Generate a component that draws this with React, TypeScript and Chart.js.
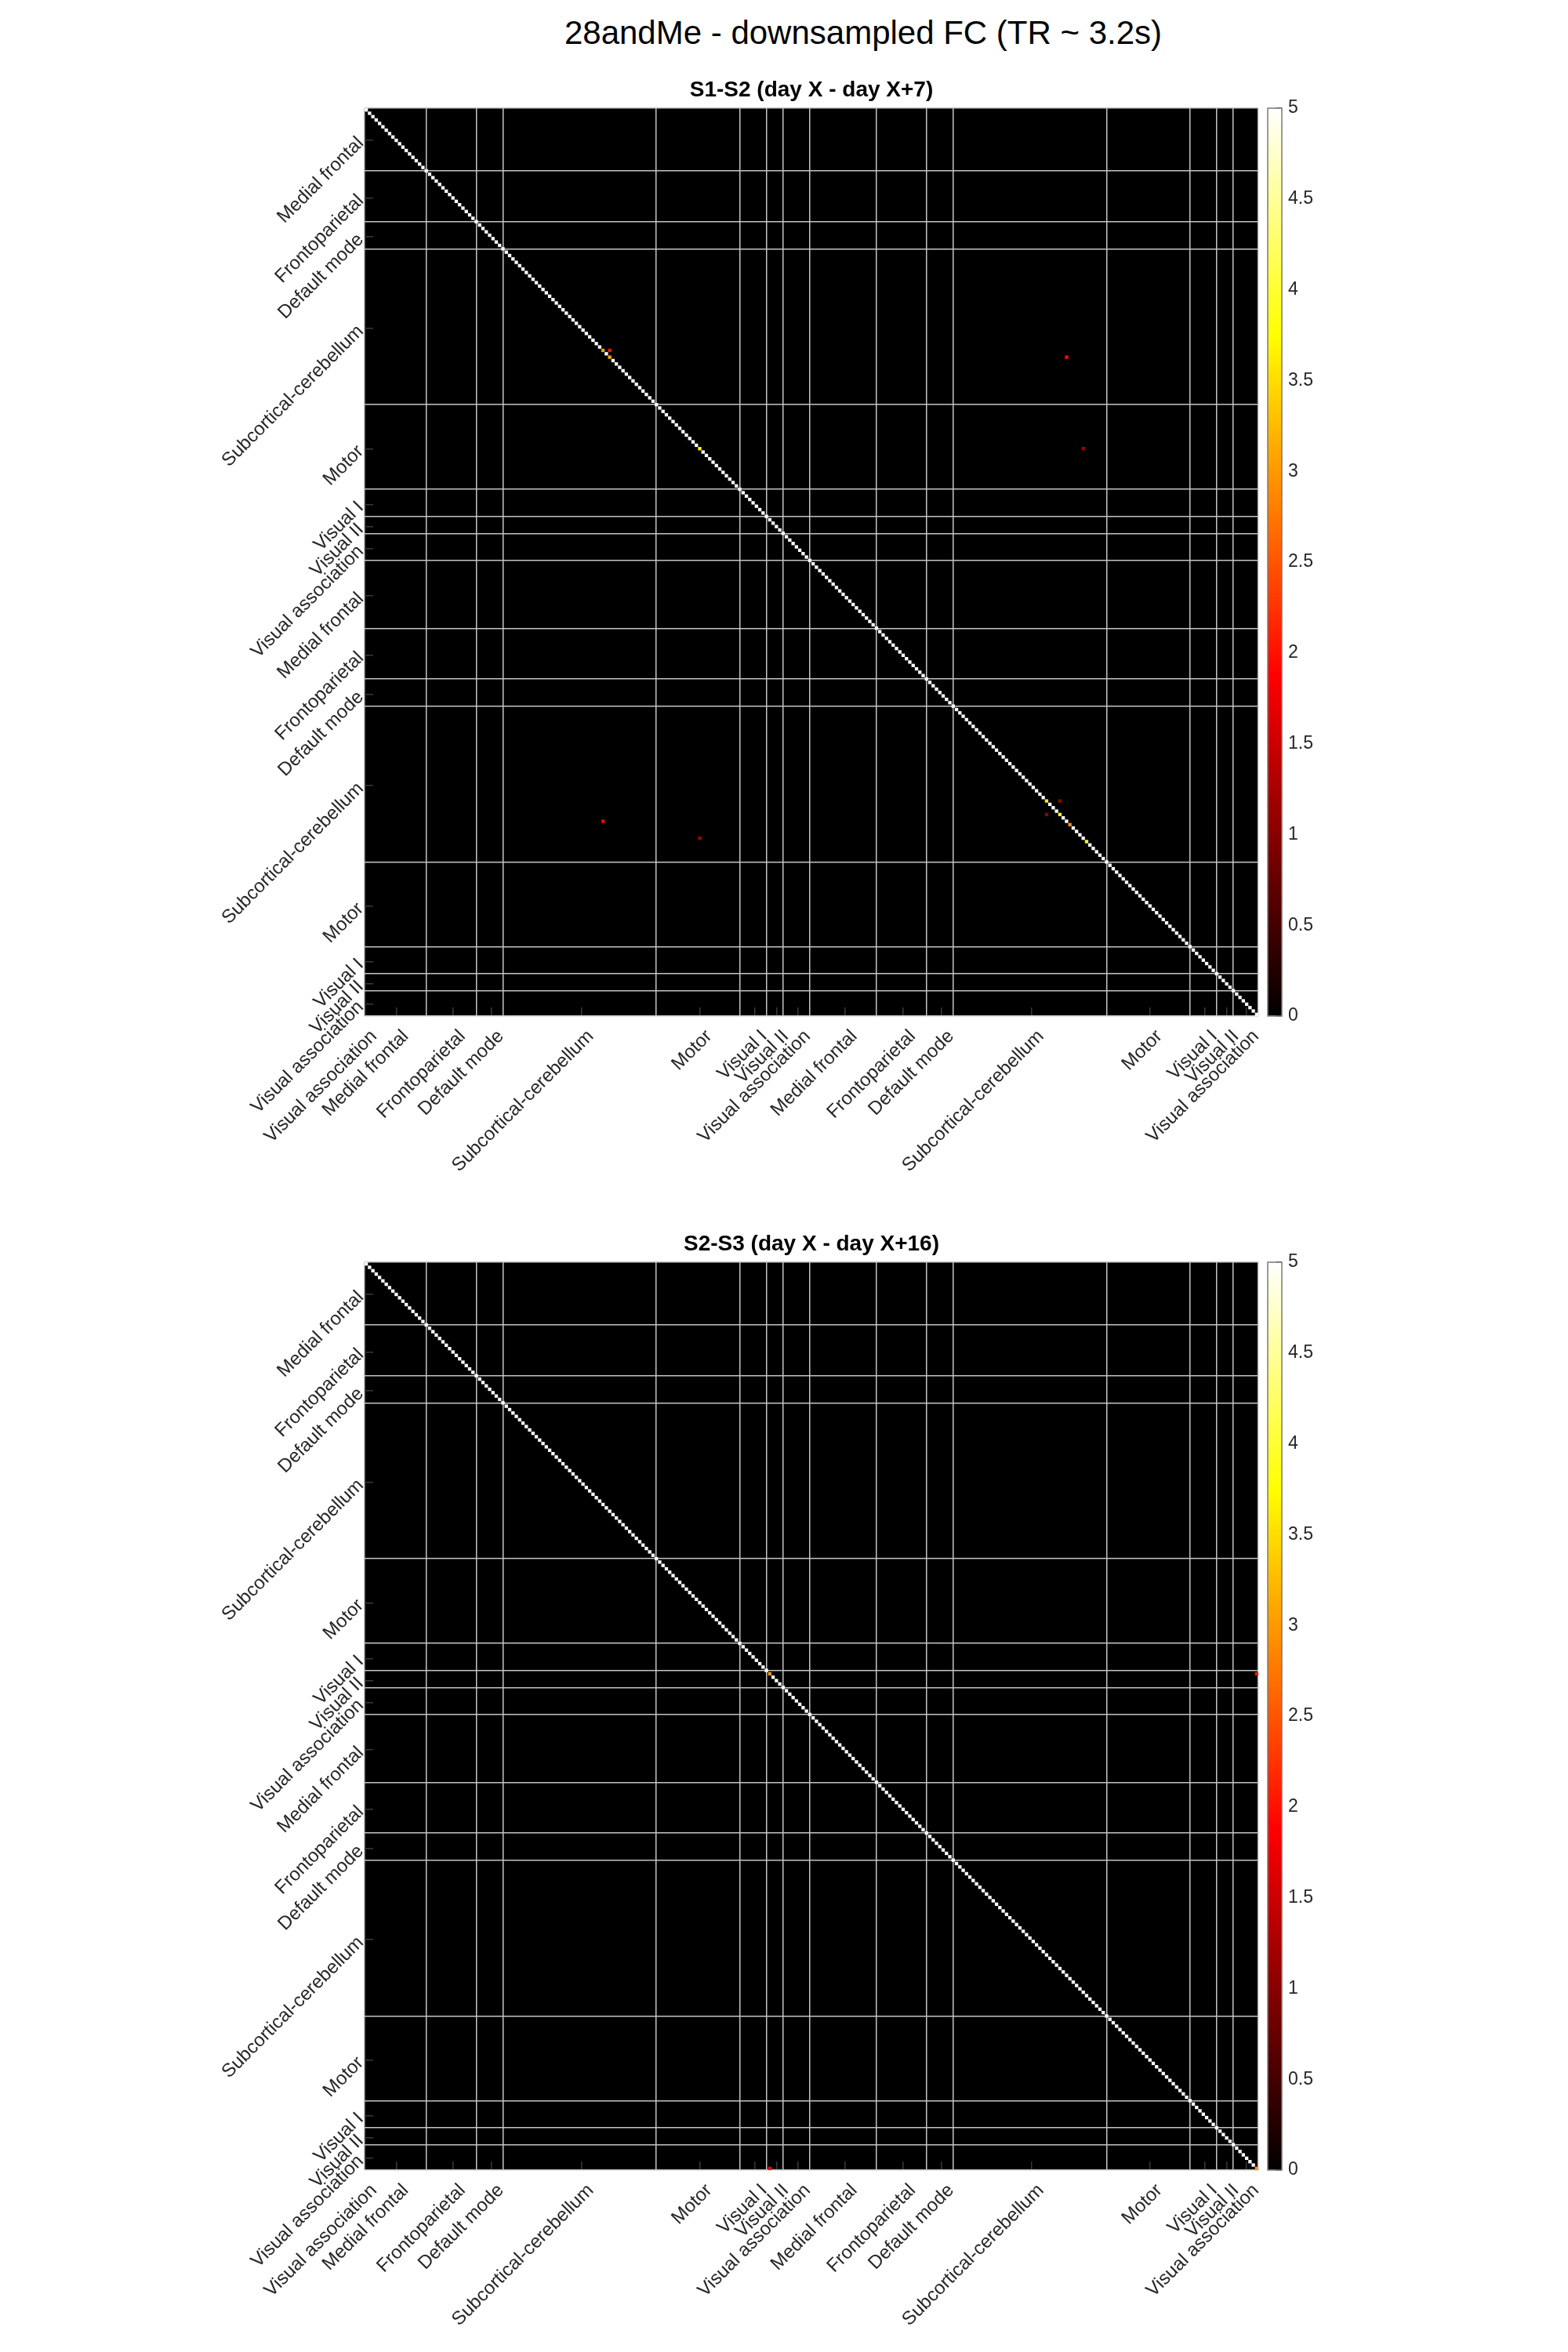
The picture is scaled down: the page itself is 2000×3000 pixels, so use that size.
import React, { useEffect, useRef } from 'react';
import { Chart, registerables } from 'chart.js';

Chart.register(...registerables);

const FONT_FAMILY = '"Liberation Sans", Arial, Helvetica, sans-serif';

const MAIN_TITLE = '28andMe - downsampled FC (TR ~ 3.2s)';
const PANEL_TITLES = ['S1-S2 (day X - day X+7)', 'S2-S3 (day X - day X+16)'];

// Network blocks (left hemisphere, then right hemisphere), node counts per block
const NETWORKS = [
  'Medial frontal',
  'Frontoparietal',
  'Default mode',
  'Subcortical-cerebellum',
  'Motor',
  'Visual I',
  'Visual II',
  'Visual association',
];
const LEFT_HEMI_SIZES = [19, 15, 8, 46, 25, 8, 5, 8];
const RIGHT_HEMI_SIZES = [20, 15, 8, 46, 25, 8, 5, 7];

const X_TICK_LABELS = [
  'Visual association',
  'Medial frontal', 'Frontoparietal', 'Default mode', 'Subcortical-cerebellum',
  'Motor', 'Visual I', 'Visual II', 'Visual association',
  'Medial frontal', 'Frontoparietal', 'Default mode', 'Subcortical-cerebellum',
  'Motor', 'Visual I', 'Visual II', 'Visual association',
];
const Y_TICK_LABELS = [
  'Medial frontal', 'Frontoparietal', 'Default mode', 'Subcortical-cerebellum',
  'Motor', 'Visual I', 'Visual II', 'Visual association',
  'Medial frontal', 'Frontoparietal', 'Default mode', 'Subcortical-cerebellum',
  'Motor', 'Visual I', 'Visual II', 'Visual association',
];

// Matrix values (0-based node indices). Diagonal is saturated (>= 5) unless listed.
const DIAGONAL_VALUE = 5;

const S1S2_ROWS = [71, 73, 71, 100, 73, 210, 100, 215, 204, 208, 211, 216, 204, 208];
const S1S2_COLS = [71, 73, 73, 100, 210, 71, 215, 100, 204, 208, 211, 216, 208, 204];
const S1S2_VALUES = [3.0, 3.1, 2.0, 3.8, 1.95, 1.9, 1.2, 1.2, 3.6, 3.75, 2.9, 3.8, 1.1, 1.1];

const S2S3_ROWS = [121, 121, 267, 267];
const S2S3_COLS = [121, 267, 121, 267];
const S2S3_VALUES = [3.0, 2.0, 1.9, 3.0];

const COLOR_RANGE = [0, 5];
const COLORBAR_TICKS = [0, 0.5, 1, 1.5, 2, 2.5, 3, 3.5, 4, 4.5, 5];

// ---------- derived structure ----------
const SIZES = [...LEFT_HEMI_SIZES, ...RIGHT_HEMI_SIZES];
const N_NODES = SIZES.reduce((a, b) => a + b, 0);
const BOUNDS: number[] = [0];
SIZES.forEach((s) => BOUNDS.push(BOUNDS[BOUNDS.length - 1] + s));
const CENTERS = SIZES.map((s, i) => BOUNDS[i] + s / 2);
const X_TICK_VALUES = [0, ...CENTERS];
const Y_TICK_VALUES = CENTERS;
// separator lines are drawn through the last cell of each block; plus the box edges
const LINE_VALUES = [0, ...BOUNDS.slice(1, -1).map((b) => b - 0.5), N_NODES];

const GRID_COLOR = '#c4c4c4';
const TEXT_COLOR = '#262626';

function hotColor(v: number): string {
  const t = Math.max(0, Math.min(1, (v - COLOR_RANGE[0]) / (COLOR_RANGE[1] - COLOR_RANGE[0])));
  const r = Math.min(1, t / 0.375);
  const g = Math.max(0, Math.min(1, (t - 0.375) / 0.375));
  const b = Math.max(0, Math.min(1, (t - 0.75) / 0.25));
  return `rgb(${Math.round(r * 255)},${Math.round(g * 255)},${Math.round(b * 255)})`;
}

function buildCells(rows: number[], cols: number[], values: number[]) {
  const map = new Map<string, number>();
  for (let i = 0; i < N_NODES; i++) map.set(`${i},${i}`, DIAGONAL_VALUE);
  rows.forEach((r, k) => map.set(`${r},${cols[k]}`, values[k]));
  return Array.from(map.entries()).map(([key, v]) => {
    const [r, c] = key.split(',').map(Number);
    return { x: c + 0.5, y: r + 0.5, v };
  });
}

const matrixBackground = {
  id: 'matrixBackground',
  beforeDraw(chart: any) {
    const { ctx, chartArea: a } = chart;
    ctx.save();
    ctx.fillStyle = hotColor(COLOR_RANGE[0]);
    ctx.fillRect(a.left, a.top, a.right - a.left, a.bottom - a.top);
    ctx.restore();
  },
};

function cellSide(chart: any) {
  const xs = chart.scales.x;
  const ys = chart.scales.y;
  const w = Math.abs(xs.getPixelForValue(1) - xs.getPixelForValue(0));
  const h = Math.abs(ys.getPixelForValue(1) - ys.getPixelForValue(0));
  return Math.max(w, h);
}

interface PanelProps {
  top: number;
  height: number;
  areaTop: number;
  areaBottom: number;
  title: string;
  rows: number[];
  cols: number[];
  values: number[];
}

const AREA_LEFT = 465;
const AREA_RIGHT = 1605;
const CANVAS_W = 2000;
const TITLE_SIZE = 28;
const TITLE_PAD_BOTTOM = 6;
const TICK_FONT_SIZE = 24;

function MatrixPanel({ top, height, areaTop, areaBottom, title, rows, cols, values }: PanelProps) {
  const ref = useRef<HTMLCanvasElement>(null);
  useEffect(() => {
    if (!ref.current) return;
    const cells = buildCells(rows, cols, values);
    const titleBox = TITLE_SIZE * 1.2 + TITLE_PAD_BOTTOM;
    const tickFont = { family: FONT_FAMILY, size: TICK_FONT_SIZE };
    const chart = new Chart(ref.current, {
      type: 'scatter',
      data: {
        datasets: [
          {
            data: cells as any,
            pointStyle: 'rect',
            pointRadius: (ctx: any) => cellSide(ctx.chart) / Math.SQRT2,
            pointHoverRadius: (ctx: any) => cellSide(ctx.chart) / Math.SQRT2,
            pointBorderWidth: 0,
            pointBackgroundColor: (ctx: any) => hotColor(ctx.raw ? ctx.raw.v : 0),
            xAxisID: 'x',
            yAxisID: 'y',
          } as any,
        ],
      },
      options: {
        animation: false,
        responsive: false,
        events: [],
        layout: {
          padding: {
            left: 0,
            right: CANVAS_W - AREA_RIGHT,
            top: areaTop - titleBox,
            bottom: 0,
          },
        },
        plugins: {
          legend: { display: false },
          tooltip: { enabled: false },
          title: {
            display: true,
            text: title,
            fullSize: false,
            color: '#000',
            font: { family: FONT_FAMILY, size: TITLE_SIZE, weight: 'bold' },
            padding: { top: 0, bottom: TITLE_PAD_BOTTOM },
          },
        },
        scales: {
          x: {
            type: 'linear',
            position: 'bottom',
            min: 0,
            max: N_NODES,
            afterBuildTicks: (s: any) => {
              s.ticks = X_TICK_VALUES.map((v) => ({ value: v }));
            },
            afterFit: (s: any) => {
              s.height = height - areaBottom;
            },
            ticks: {
              autoSkip: false,
              minRotation: 45,
              maxRotation: 45,
              padding: 23,
              labelOffset: 12,
              color: TEXT_COLOR,
              font: tickFont,
              callback: (_v: any, i: number) => X_TICK_LABELS[i],
            },
            grid: {
              display: true,
              drawOnChartArea: false,
              drawTicks: true,
              tickLength: -11,
              color: '#3a3a3a',
              lineWidth: 1.5,
            },
            border: { display: false },
          },
          xg: {
            type: 'linear',
            position: 'bottom',
            min: 0,
            max: N_NODES,
            z: 1,
            afterBuildTicks: (s: any) => {
              s.ticks = LINE_VALUES.map((v) => ({ value: v }));
            },
            afterFit: (s: any) => {
              s.height = 0;
            },
            ticks: { display: false },
            grid: { color: GRID_COLOR, lineWidth: 1.5, drawTicks: false },
            border: { display: false },
          },
          y: {
            type: 'linear',
            position: 'left',
            min: 0,
            max: N_NODES,
            reverse: true,
            afterBuildTicks: (s: any) => {
              s.ticks = Y_TICK_VALUES.map((v) => ({ value: v }));
            },
            afterFit: (s: any) => {
              s.width = AREA_LEFT;
            },
            ticks: {
              autoSkip: false,
              minRotation: 45,
              maxRotation: 45,
              padding: 16,
              color: TEXT_COLOR,
              font: tickFont,
              callback: (_v: any, i: number) => Y_TICK_LABELS[i],
            },
            grid: {
              display: true,
              drawOnChartArea: false,
              drawTicks: true,
              tickLength: -11,
              color: '#3a3a3a',
              lineWidth: 1.5,
            },
            border: { display: false },
          },
          yg: {
            type: 'linear',
            position: 'left',
            min: 0,
            max: N_NODES,
            reverse: true,
            z: 1,
            afterBuildTicks: (s: any) => {
              s.ticks = LINE_VALUES.map((v) => ({ value: v }));
            },
            afterFit: (s: any) => {
              s.width = 0;
            },
            ticks: { display: false },
            grid: { color: GRID_COLOR, lineWidth: 1.5, drawTicks: false },
            border: { display: false },
          },
        } as any,
      },
      plugins: [matrixBackground],
    });
    return () => chart.destroy();
  }, []);
  return (
    <canvas
      ref={ref}
      width={CANVAS_W}
      height={height}
      style={{ position: 'absolute', left: 0, top, width: CANVAS_W, height }}
    />
  );
}

const CB_LEFT = 1600;
const CB_W = 200;
const CB_BAR_LEFT = 17;
const CB_BAR_RIGHT = 35;

const colorbarOutline = {
  id: 'colorbarOutline',
  afterDraw(chart: any) {
    const { ctx, chartArea: a } = chart;
    ctx.save();
    ctx.strokeStyle = '#7a7a7a';
    ctx.lineWidth = 1.5;
    ctx.strokeRect(a.left, a.top, a.right - a.left, a.bottom - a.top);
    ctx.restore();
  },
};

function Colorbar({ top, height, areaTop, areaBottom }: { top: number; height: number; areaTop: number; areaBottom: number }) {
  const ref = useRef<HTMLCanvasElement>(null);
  useEffect(() => {
    if (!ref.current) return;
    const chart = new Chart(ref.current, {
      type: 'bar',
      data: {
        labels: ['colorbar'],
        datasets: [
          {
            data: [[COLOR_RANGE[0], COLOR_RANGE[1]]] as any,
            barPercentage: 1,
            categoryPercentage: 1,
            borderWidth: 0,
            backgroundColor: (ctx: any) => {
              const { chartArea, ctx: c } = ctx.chart;
              if (!chartArea) return '#000';
              const g = c.createLinearGradient(0, chartArea.bottom, 0, chartArea.top);
              [0, 0.375, 0.75, 1].forEach((t) => {
                g.addColorStop(t, hotColor(COLOR_RANGE[0] + t * (COLOR_RANGE[1] - COLOR_RANGE[0])));
              });
              return g;
            },
          } as any,
        ],
      },
      options: {
        animation: false,
        responsive: false,
        events: [],
        layout: {
          padding: { left: CB_BAR_LEFT, right: 0, top: areaTop, bottom: height - areaBottom },
        },
        plugins: { legend: { display: false }, tooltip: { enabled: false } },
        scales: {
          x: { display: false },
          y: {
            type: 'linear',
            position: 'right',
            min: COLOR_RANGE[0],
            max: COLOR_RANGE[1],
            z: 1,
            afterBuildTicks: (s: any) => {
              s.ticks = COLORBAR_TICKS.map((v) => ({ value: v }));
            },
            afterFit: (s: any) => {
              s.width = CB_W - CB_BAR_RIGHT;
            },
            ticks: {
              autoSkip: false,
              padding: 16,
              color: TEXT_COLOR,
              font: { family: FONT_FAMILY, size: 23 },
              callback: (v: any) => String(v),
            },
            grid: {
              drawOnChartArea: false,
              drawTicks: true,
              tickLength: -8,
              color: '#333',
              lineWidth: 1.5,
            },
            border: { display: false },
          },
        } as any,
      },
      plugins: [colorbarOutline],
    });
    return () => chart.destroy();
  }, []);
  return (
    <canvas
      ref={ref}
      width={CB_W}
      height={height}
      style={{ position: 'absolute', left: CB_LEFT, top, width: CB_W, height }}
    />
  );
}

export default function App() {
  return (
    <div
      style={{
        position: 'absolute',
        left: 0,
        top: 0,
        width: 2000,
        height: 3000,
        background: '#ffffff',
        fontFamily: FONT_FAMILY,
      }}
    >
      <div
        style={{
          position: 'absolute',
          left: 1101,
          top: 42,
          transform: 'translate(-50%, -50%)',
          fontSize: 42,
          lineHeight: 1,
          whiteSpace: 'nowrap',
          color: '#000',
        }}
      >
        {MAIN_TITLE}
      </div>
      <MatrixPanel
        top={0}
        height={1500}
        areaTop={138}
        areaBottom={1296}
        title={PANEL_TITLES[0]}
        rows={S1S2_ROWS}
        cols={S1S2_COLS}
        values={S1S2_VALUES}
      />
      <Colorbar top={0} height={1500} areaTop={138} areaBottom={1296} />
      <MatrixPanel
        top={1460}
        height={1540}
        areaTop={150}
        areaBottom={1308}
        title={PANEL_TITLES[1]}
        rows={S2S3_ROWS}
        cols={S2S3_COLS}
        values={S2S3_VALUES}
      />
      <Colorbar top={1460} height={1540} areaTop={150} areaBottom={1308} />
    </div>
  );
}
